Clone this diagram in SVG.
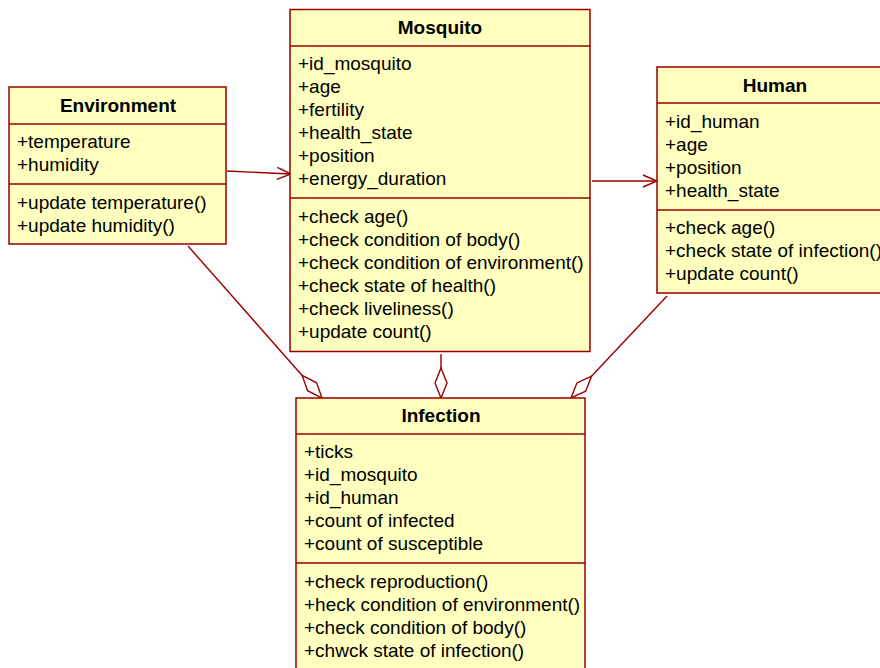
<svg xmlns="http://www.w3.org/2000/svg" width="880" height="668" viewBox="0 0 880 668">
<style>
.box{fill:#ffffc0;stroke:#990000;stroke-width:1.5}
.sep{stroke:#990000;stroke-width:1.5}
.t{font-family:"Liberation Sans",Arial,sans-serif;font-size:19px;fill:#000}
.h{font-family:"Liberation Sans",Arial,sans-serif;font-size:19px;font-weight:bold;fill:#000;text-anchor:middle}
.c{stroke:#990000;stroke-width:1.4;fill:none}
</style>
<defs>
<marker id="arr" markerUnits="userSpaceOnUse" markerWidth="20" markerHeight="20" refX="15" refY="7" orient="auto" overflow="visible">
<path d="M1,1 L15,7 L1,13" fill="none" stroke="#990000" stroke-width="1.4"/>
</marker>
<marker id="dia" markerUnits="userSpaceOnUse" markerWidth="32" markerHeight="14" refX="30" refY="7" orient="auto" overflow="visible">
<path d="M0,7 L15,1 L30,7 L15,13 Z" fill="#fff" stroke="#990000" stroke-width="1.4"/>
</marker>
</defs>
<rect width="880" height="668" fill="#fff"/>
<g id="connectors">
<line class="c" x1="227" y1="171" x2="291" y2="174" marker-end="url(#arr)"/>
<line class="c" x1="592" y1="181" x2="657" y2="181" marker-end="url(#arr)"/>
<line class="c" x1="188" y1="246" x2="322" y2="398" marker-end="url(#dia)"/>
<line class="c" x1="441" y1="354" x2="441" y2="398" marker-end="url(#dia)"/>
<line class="c" x1="667" y1="296" x2="571" y2="398" marker-end="url(#dia)"/>
</g>
<g id="environment">
<rect class="box" x="9" y="87" width="217" height="157"/>
<line class="sep" x1="9" y1="124" x2="226" y2="124"/>
<line class="sep" x1="9" y1="184" x2="226" y2="184"/>
<text class="h" x="118" y="112">Environment</text>
<text class="t" x="17" y="148">+temperature</text>
<text class="t" x="17" y="171">+humidity</text>
<text class="t" x="17" y="209">+update temperature()</text>
<text class="t" x="17" y="232">+update humidity()</text>
</g>
<g id="mosquito">
<rect class="box" x="290" y="9.5" width="300" height="342"/>
<line class="sep" x1="290" y1="46" x2="590" y2="46"/>
<line class="sep" x1="290" y1="198" x2="590" y2="198"/>
<text class="h" x="440" y="34">Mosquito</text>
<text class="t" x="298" y="70">+id_mosquito</text>
<text class="t" x="298" y="93">+age</text>
<text class="t" x="298" y="116">+fertility</text>
<text class="t" x="298" y="139">+health_state</text>
<text class="t" x="298" y="162">+position</text>
<text class="t" x="298" y="185">+energy_duration</text>
<text class="t" x="298" y="223">+check age()</text>
<text class="t" x="298" y="246">+check condition of body()</text>
<text class="t" x="298" y="269">+check condition of environment()</text>
<text class="t" x="298" y="292">+check state of health()</text>
<text class="t" x="298" y="315">+check liveliness()</text>
<text class="t" x="298" y="338">+update count()</text>
</g>
<g id="human">
<rect class="box" x="657" y="67" width="236" height="226"/>
<line class="sep" x1="657" y1="103" x2="893" y2="103"/>
<line class="sep" x1="657" y1="210" x2="893" y2="210"/>
<text class="h" x="775" y="92">Human</text>
<text class="t" x="665" y="128">+id_human</text>
<text class="t" x="665" y="151">+age</text>
<text class="t" x="665" y="174">+position</text>
<text class="t" x="665" y="197">+health_state</text>
<text class="t" x="665" y="234">+check age()</text>
<text class="t" x="665" y="257">+check state of infection()</text>
<text class="t" x="665" y="280">+update count()</text>
</g>
<g id="infection">
<rect class="box" x="296" y="398" width="289" height="290"/>
<line class="sep" x1="296" y1="434" x2="585" y2="434"/>
<line class="sep" x1="296" y1="563" x2="585" y2="563"/>
<text class="h" x="441" y="422">Infection</text>
<text class="t" x="304" y="458">+ticks</text>
<text class="t" x="304" y="481">+id_mosquito</text>
<text class="t" x="304" y="504">+id_human</text>
<text class="t" x="304" y="527">+count of infected</text>
<text class="t" x="304" y="550">+count of susceptible</text>
<text class="t" x="304" y="588">+check reproduction()</text>
<text class="t" x="304" y="611">+heck condition of environment()</text>
<text class="t" x="304" y="634">+check condition of body()</text>
<text class="t" x="304" y="657">+chwck state of infection()</text>
</g>
</svg>
